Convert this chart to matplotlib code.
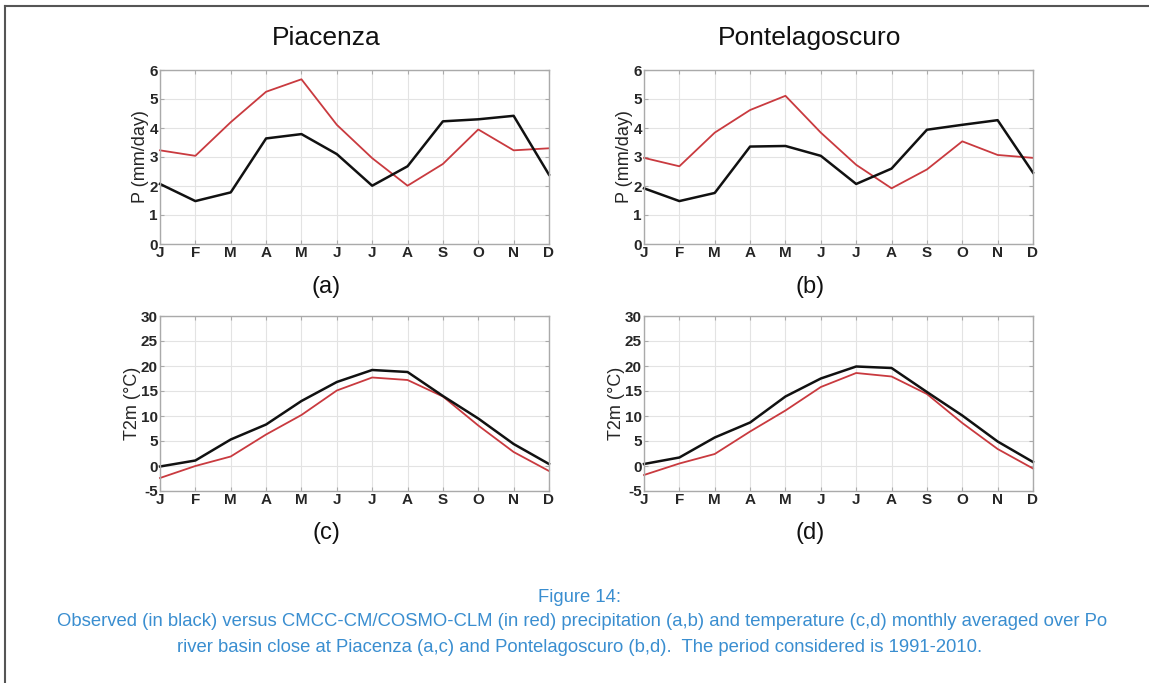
import matplotlib
matplotlib.use("Agg")
import matplotlib.pyplot as plt
from matplotlib.lines import Line2D

plt.rcParams['font.family'] = ['Liberation Sans', 'DejaVu Sans']
plt.rcParams['axes.unicode_minus'] = False

months = ['J', 'F', 'M', 'A', 'M', 'J', 'J', 'A', 'S', 'O', 'N', 'D']

# precipitation (mm/day)
pia_p_obs = [2.07, 1.48, 1.78, 3.64, 3.79, 3.10, 2.01, 2.68, 4.23, 4.30, 4.42, 2.39]
pia_p_mod = [3.23, 3.04, 4.20, 5.25, 5.68, 4.11, 2.96, 2.01, 2.76, 3.95, 3.23, 3.30]
pon_p_obs = [1.92, 1.48, 1.76, 3.36, 3.38, 3.04, 2.07, 2.60, 3.94, 4.11, 4.27, 2.46]
pon_p_mod = [2.97, 2.68, 3.84, 4.62, 5.11, 3.84, 2.73, 1.92, 2.57, 3.54, 3.07, 2.97]

# 2m temperature (degC)
pia_t_obs = [-0.1, 1.1, 5.3, 8.3, 13.0, 16.8, 19.2, 18.8, 14.0, 9.5, 4.4, 0.4]
pia_t_mod = [-2.4, 0.0, 1.9, 6.3, 10.2, 15.1, 17.7, 17.2, 13.9, 8.1, 2.8, -1.0]
pon_t_obs = [0.4, 1.7, 5.7, 8.7, 13.9, 17.5, 19.9, 19.6, 14.8, 10.1, 4.9, 0.8]
pon_t_mod = [-1.8, 0.5, 2.4, 6.9, 11.1, 15.8, 18.6, 17.9, 14.4, 8.6, 3.4, -0.5]

obs_color = '#111111'
mod_color = '#c93a3f'
caption_color = '#3a8ed0'

W, H = 1149, 683
fig = plt.figure(figsize=(W / 100, H / 100), dpi=100)

# frame around the figure (only top and left visible in the crop)
fig.add_artist(Line2D([5 / W, 5 / W], [0, 1 - 6 / H], color='#555555', lw=1.5))
fig.add_artist(Line2D([5 / W, 1], [1 - 6 / H, 1 - 6 / H], color='#555555', lw=1.5))


def make_axes(left_px, top_px, right_px, bottom_px):
    return fig.add_axes([left_px / W, 1 - bottom_px / H,
                         (right_px - left_px) / W, (bottom_px - top_px) / H])


def style_axes(ax, ylim, yticks, ylabel):
    x = list(range(len(months)))
    ax.set_xlim(0, len(months) - 1)
    ax.set_ylim(*ylim)
    ax.set_xticks(x)
    ax.set_xticklabels(months)
    ax.set_yticks(yticks)
    ax.grid(True, color='#e3e3e3', lw=0.8)
    ax.set_axisbelow(True)
    for s in ax.spines.values():
        s.set_color('#aaaaaa')
        s.set_linewidth(1.0)
    ax.tick_params(direction='in', top=True, right=True, length=3,
                   color='#aaaaaa', labelcolor='#262626', labelsize=11, pad=1.5)
    for lab in ax.get_xticklabels() + ax.get_yticklabels():
        lab.set_fontweight('bold')
    ax.set_ylabel(ylabel, fontsize=13, color='#262626', labelpad=0)


# (axes box in px, obs, model, ylim, yticks, ylabel, tag, tag centre x, tag centre y)
panels = [
    ((160, 70, 549, 244), pia_p_obs, pia_p_mod, (0, 6), range(0, 7), 'P (mm/day)', '(a)', 326, 287),
    ((644, 70, 1033, 244), pon_p_obs, pon_p_mod, (0, 6), range(0, 7), 'P (mm/day)', '(b)', 810, 287),
    ((160, 316, 549, 491), pia_t_obs, pia_t_mod, (-5, 30), range(-5, 31, 5), 'T2m (°C)', '(c)', 326, 533),
    ((644, 316, 1033, 491), pon_t_obs, pon_t_mod, (-5, 30), range(-5, 31, 5), 'T2m (°C)', '(d)', 810, 533),
]

for box, obs, mod, ylim, yticks, ylabel, tag, tx, ty in panels:
    ax = make_axes(*box)
    x = list(range(len(months)))
    ax.plot(x, mod, color=mod_color, lw=1.3, clip_on=False)
    ax.plot(x, obs, color=obs_color, lw=1.8, clip_on=False)
    style_axes(ax, ylim, yticks, ylabel)
    fig.text(tx / W, 1 - ty / H, tag, ha='center', va='center',
             fontsize=17, color='#111111')

# station titles
fig.text(326 / W, 1 - 38 / H, 'Piacenza', ha='center', va='center', fontsize=19, color='#111111')
fig.text(810 / W, 1 - 38 / H, 'Pontelagoscuro', ha='center', va='center', fontsize=19, color='#111111')

# caption
fig.text(580 / W, 1 - 597 / H, 'Figure 14:', ha='center', va='center',
         fontsize=13.3, color=caption_color)
fig.text(582 / W, 1 - 622 / H,
         'Observed (in black) versus CMCC-CM/COSMO-CLM (in red) precipitation (a,b) and '
         'temperature (c,d) monthly averaged over Po',
         ha='center', va='center', fontsize=13.3, color=caption_color)
fig.text(580 / W, 1 - 647 / H,
         'river basin close at Piacenza (a,c) and Pontelagoscuro (b,d).  '
         'The period considered is 1991-2010.',
         ha='center', va='center', fontsize=13.3, color=caption_color)

fig.savefig('out.png', dpi=100)
